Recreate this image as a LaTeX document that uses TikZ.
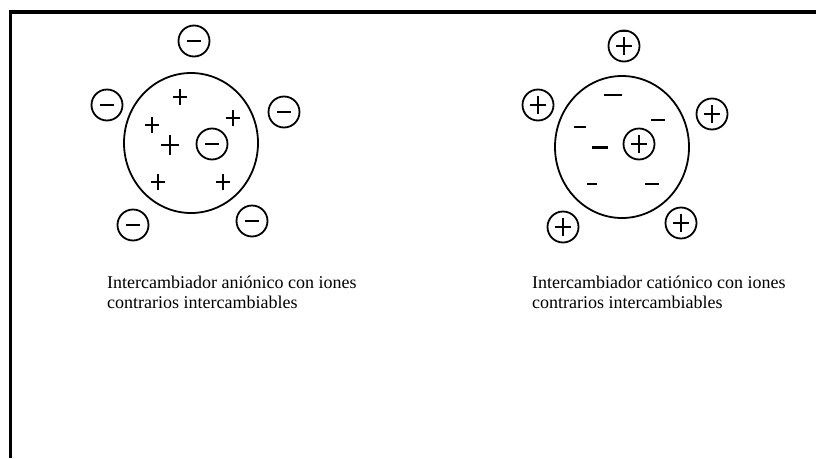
\documentclass[tikz,border=0pt]{standalone}
\usepackage{fontspec}
\setmainfont{Liberation Serif}
\begin{document}
\begin{tikzpicture}[x=1pt,y=-1pt,
  ring/.style={line width=1.8pt},
  sign/.style={line width=2.4pt},
  thinsign/.style={line width=1.3pt},
  anion/.pic={\draw[ring] (0,0) circle (15.5); \draw[sign] (-7,0) -- (7,0);},
  cation/.pic={\draw[ring] (0,0) circle (15.5); \draw[sign] (-8,0) -- (8,0) (0,-9) -- (0,9);},
  plussign/.pic={\draw[sign] (-7,0) -- (7,0) (0,-8) -- (0,8);},
  caption/.style={font=\fontsize{18}{20}\selectfont, align=left, anchor=north west, inner sep=0pt}
]
\useasboundingbox (0,0) rectangle (816,458);
% frame
\draw[line width=4pt] (8.5,12) -- (816,12);
\draw[line width=3pt] (10.5,10) -- (10.5,458);

% ---------- anion exchanger ----------
\draw[ring] (191,143) ellipse (67 and 70);
\pic at (194,41) {anion};
\pic at (107,105) {anion};
\pic at (284,112) {anion};
\pic at (133,225) {anion};
\pic at (252,221) {anion};
\pic at (212,144) {anion};
\pic at (180,97) {plussign};
\pic at (152,125) {plussign};
\pic[scale=1.25] at (170,145) {plussign};
\pic at (233,118) {plussign};
\pic at (158,182) {plussign};
\pic at (223,182) {plussign};

% ---------- cation exchanger ----------
\draw[ring] (622,147) ellipse (67 and 71);
\pic at (624,46) {cation};
\draw[sign] (620,31) -- (628,31);
\pic at (538,105) {cation};
\pic at (712,114) {cation};
\pic at (563,227) {cation};
\pic at (681,223) {cation};
\pic at (639,144) {cation};
\draw[sign] (604,95) -- (622,95);
\draw[thinsign] (574,127) -- (586,127);
\draw[sign] (651,120) -- (665,120);
\draw[line width=3pt] (592,147) -- (608,147);
\draw[thinsign] (587,184) -- (597,184);
\draw[thinsign] (645,184) -- (659,184);

% captions
\node[caption] (capA) at (107,276) {Intercambiador aniónico con iones\\contrarios intercambiables};
\node[caption] (capC) at (532,276) {Intercambiador catiónico con iones\\contrarios intercambiables};
\end{tikzpicture}
\end{document}
